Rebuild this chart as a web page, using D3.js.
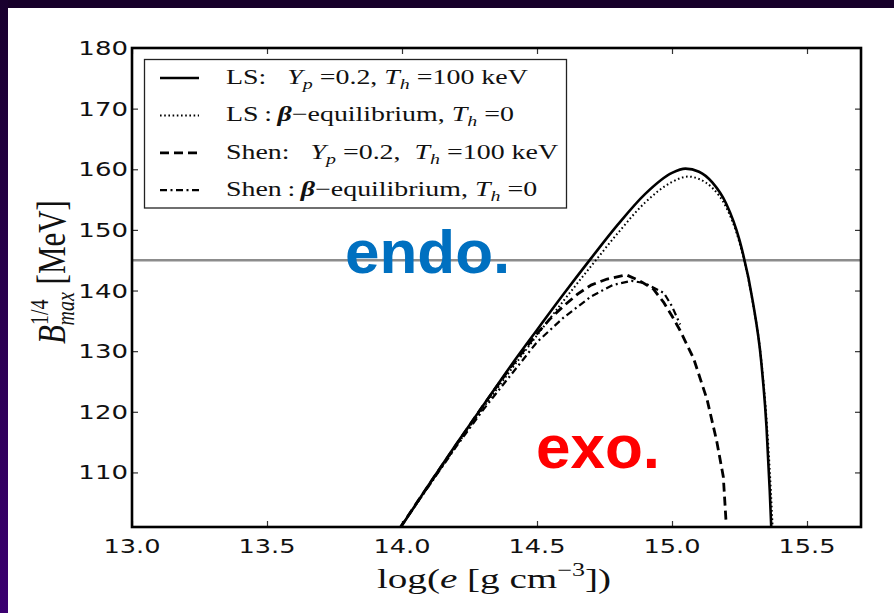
<!DOCTYPE html>
<html>
<head>
<meta charset="utf-8">
<script src="https://cdn.jsdelivr.net/npm/d3@7"></script>
<style>
  html, body { margin: 0; padding: 0; background: #fff; }
  svg { display: block; }
</style>
</head>
<body>
<svg id="chart" width="894" height="613"></svg>
<script>
// log10 of energy density [g cm^-3] vs. B^{1/4}_max [MeV]
const lsHot = [
  [13.99, 100.6], [14.1, 108.0], [14.2, 114.6], [14.3, 121.0], [14.4, 127.4],
  [14.5, 133.5], [14.6, 139.5], [14.7, 145.3], [14.8, 150.9], [14.9, 155.9],
  [15.0, 159.4], [15.05, 160.1], [15.1, 159.6], [15.15, 157.8], [15.2, 154.4],
  [15.25, 148.3], [15.3, 138.0], [15.33, 128.5], [15.35, 117.5], [15.362, 107.0],
  [15.368, 100.5]
];
const lsBeta = [
  [13.99, 100.7], [14.1, 107.8], [14.2, 114.3], [14.3, 120.6], [14.4, 126.7],
  [14.5, 132.6], [14.6, 138.4], [14.7, 144.0], [14.8, 149.5], [14.9, 154.5],
  [15.0, 157.9], [15.06, 158.8], [15.1, 158.4], [15.15, 156.9], [15.2, 153.8],
  [15.25, 147.9], [15.3, 137.8], [15.33, 128.8], [15.352, 117.5], [15.366, 107.0],
  [15.373, 100.5]
];
const shenHot = [
  [13.99, 100.7], [14.1, 108.0], [14.2, 114.5], [14.3, 121.0], [14.4, 127.2],
  [14.5, 132.9], [14.55, 135.4], [14.6, 137.5], [14.65, 139.4], [14.7, 140.9],
  [14.76, 141.9], [14.83, 142.6], [14.88, 141.6], [14.93, 140.3], [14.97, 138.0],
  [15.0, 135.8], [15.03, 133.4], [15.08, 128.8], [15.13, 122.0], [15.165, 115.3],
  [15.19, 109.3], [15.2, 102.0]
];
const shenBeta = [
  [13.99, 100.7], [14.1, 107.8], [14.2, 114.2], [14.3, 120.3], [14.4, 125.9],
  [14.5, 131.5], [14.6, 135.6], [14.7, 139.0], [14.78, 140.9], [14.85, 141.6],
  [14.9, 141.2], [14.97, 139.6], [15.0, 137.4], [15.03, 134.4]
];
const xTicks = [13.0, 13.5, 14.0, 14.5, 15.0, 15.5];
const yTicks = [110, 120, 130, 140, 150, 160, 170, 180];
const threshold = 145;

const svg = d3.select("#chart");
const W = 894, H = 613;
const plot = { left: 132, right: 861, top: 48, bottom: 527 };

const x = d3.scaleLinear().domain([13.0, 15.7]).range([plot.left, plot.right]);
const y = d3.scaleLinear().domain([101, 180]).range([plot.bottom, plot.top]);

// slide frame
const defs = svg.append("defs");
const grad = defs.append("linearGradient").attr("id", "sideGrad")
  .attr("x1", 0).attr("y1", 0).attr("x2", 0).attr("y2", 1);
grad.append("stop").attr("offset", "0%").attr("stop-color", "#19002e");
grad.append("stop").attr("offset", "100%").attr("stop-color", "#3b0070");
svg.append("rect").attr("width", W).attr("height", H).attr("fill", "#fff");
svg.append("rect").attr("x", 0).attr("y", 0).attr("width", W).attr("height", 8).attr("fill", "#17002a");
svg.append("rect").attr("x", 0).attr("y", 0).attr("width", 8).attr("height", H).attr("fill", "url(#sideGrad)");

defs.append("clipPath").attr("id", "plotClip").append("rect")
  .attr("x", plot.left).attr("y", plot.top)
  .attr("width", plot.right - plot.left).attr("height", plot.bottom - plot.top);

// horizontally stretched text helper
function stext(parent, px, py, sx, anchor) {
  const g = parent.append("g").attr("transform", `translate(${px},${py}) scale(${sx},1)`);
  return g.append("text").attr("text-anchor", anchor || "start");
}

// axes with inward ticks on all four sides
const tickLen = 6;
const axB = d3.axisBottom(x).tickValues(xTicks).tickSize(-tickLen).tickFormat("");
const axT = d3.axisTop(x).tickValues(xTicks).tickSize(-tickLen).tickFormat("");
const axL = d3.axisLeft(y).tickValues(yTicks.filter(v => v < 180)).tickSize(-tickLen).tickFormat("");
const axR = d3.axisRight(y).tickValues(yTicks.filter(v => v < 180)).tickSize(-tickLen).tickFormat("");
[
  [axB, `translate(0,${plot.bottom})`],
  [axT, `translate(0,${plot.top})`],
  [axL, `translate(${plot.left},0)`],
  [axR, `translate(${plot.right},0)`]
].forEach(([ax, tr]) => {
  const g = svg.append("g").attr("transform", tr).call(ax);
  g.select(".domain").remove();
  g.selectAll(".tick line").attr("stroke", "#333").attr("stroke-width", 1.2);
});

// tick labels
const tickFont = "'DejaVu Sans', sans-serif";
xTicks.forEach(v => {
  stext(svg, x(v), 553, 1.35, "middle")
    .attr("font-family", tickFont).attr("font-size", 19).attr("fill", "#111")
    .text(v.toFixed(1));
});
yTicks.forEach(v => {
  stext(svg, plot.left - 4, y(v) + 7, 1.37, "end")
    .attr("font-family", tickFont).attr("font-size", 19).attr("fill", "#111")
    .text(v);
});

// threshold line
svg.append("line")
  .attr("x1", plot.left).attr("x2", plot.right)
  .attr("y1", y(threshold)).attr("y2", y(threshold))
  .attr("stroke", "#8c8c8c").attr("stroke-width", 2.5);

// curves
const styles = [
  { data: lsHot, dash: null, width: 2.6, curve: d3.curveMonotoneX },
  { data: lsBeta, dash: "1.6,2.6", width: 2.0, curve: d3.curveMonotoneX },
  { data: shenHot, dash: "9,5", width: 2.8, curve: d3.curveLinear },
  { data: shenBeta, dash: "7,3.5,2,3.5", width: 2.2, curve: d3.curveLinear }
];
const curves = svg.append("g").attr("clip-path", "url(#plotClip)");
styles.forEach(s => {
  const line = d3.line().x(d => x(d[0])).y(d => y(d[1])).curve(s.curve);
  curves.append("path").datum(s.data)
    .attr("d", line)
    .attr("fill", "none").attr("stroke", "#000")
    .attr("stroke-width", s.width)
    .attr("stroke-dasharray", s.dash)
    .attr("stroke-linejoin", "round");
});

// frame
svg.append("rect")
  .attr("x", plot.left).attr("y", plot.top)
  .attr("width", plot.right - plot.left).attr("height", plot.bottom - plot.top)
  .attr("fill", "none").attr("stroke", "#000").attr("stroke-width", 2.6);

// legend
const serif = "'Liberation Serif', 'DejaVu Serif', serif";
const leg = svg.append("g");
leg.append("rect").attr("x", 144.5).attr("y", 59.5).attr("width", 422).attr("height", 148.5)
  .attr("fill", "#fff").attr("stroke", "#222").attr("stroke-width", 1.3);
const legRows = [0, 1, 2, 3].map(i => 78 + i * 37.4);
const legText = [
  [["LS", ""], [":\u2002 ", ""], ["Y", "i"], ["p", "is"], [" =0.2, ", ""], ["T", "i"], ["h", "is"], [" =100 keV", ""]],
  [["LS\u2009:\u2009", ""], ["β", "bi"], ["−equilibrium, ", ""], ["T", "i"], ["h", "is"], [" =0", ""]],
  [["Shen", ""], [":\u2002 ", ""], ["Y", "i"], ["p", "is"], [" =0.2,  ", ""], ["T", "i"], ["h", "is"], [" =100 keV", ""]],
  [["Shen\u2009:\u2009", ""], ["β", "bi"], ["−equilibrium, ", ""], ["T", "i"], ["h", "is"], [" =0", ""]]
];
styles.forEach((s, i) => {
  const ry = legRows[i];
  leg.append("line").attr("x1", 160).attr("x2", 199).attr("y1", ry).attr("y2", ry)
    .attr("stroke", "#000").attr("stroke-width", s.width).attr("stroke-dasharray", s.dash);
  const t = stext(leg, 226, ry + 6, 1.33, "start")
    .attr("font-family", serif).attr("font-size", 21).attr("fill", "#111")
    .attr("xml:space", "preserve");
  let shifted = false;
  legText[i].forEach(([str, st]) => {
    const ts = t.append("tspan").text(str);
    if (st.includes("i")) ts.attr("font-style", "italic");
    if (st.includes("b")) ts.attr("font-weight", "bold");
    if (st.includes("s")) { ts.attr("font-size", 15).attr("dy", 5); shifted = true; }
    else if (shifted) { ts.attr("dy", -5); shifted = false; }
  });
});

// axis titles
const xl = stext(svg, 494, 588, 1.45, "middle")
  .attr("font-family", serif).attr("font-size", 27).attr("fill", "#111")
  .attr("xml:space", "preserve");
xl.append("tspan").text("log(");
xl.append("tspan").attr("font-style", "italic").text("e");
xl.append("tspan").text(" [g cm");
xl.append("tspan").attr("font-size", 18).attr("dy", -12).text("−3");
xl.append("tspan").attr("dy", 12).text("])");

const yl = svg.append("g").attr("transform", "translate(65,272) scale(1.3,1) rotate(-90)");
const ylt = yl.append("text").attr("text-anchor", "middle")
  .attr("font-family", serif).attr("font-size", 31).attr("fill", "#111")
  .attr("xml:space", "preserve");
ylt.append("tspan").attr("font-style", "italic").text("B");
ylt.append("tspan").attr("font-size", 20).attr("dy", -13).text("1/4");
ylt.append("tspan").attr("font-size", 20).attr("font-style", "italic").attr("dy", 20).attr("dx", -26).text("max");
ylt.append("tspan").attr("dy", -7).text(" [MeV]");

// region labels
svg.append("text").attr("x", 345).attr("y", 273)
  .attr("font-family", "'Liberation Sans', Arial, sans-serif").attr("font-weight", "bold")
  .attr("font-size", 62).attr("fill", "#0070c0").text("endo.");
svg.append("text").attr("x", 536).attr("y", 468)
  .attr("font-family", "'Liberation Sans', Arial, sans-serif").attr("font-weight", "bold")
  .attr("font-size", 62).attr("fill", "#ff0000").text("exo.");
</script>
</body>
</html>
